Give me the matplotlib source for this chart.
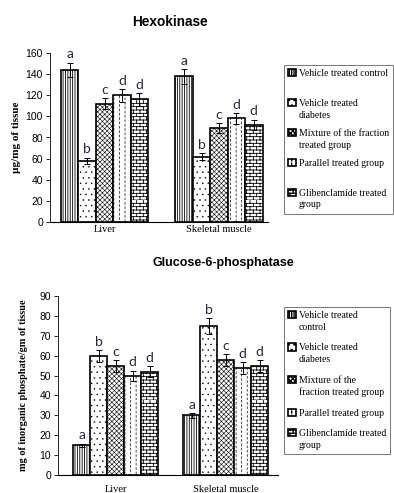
import warnings
import numpy as np
import matplotlib
matplotlib.use('Agg')
import matplotlib.pyplot as plt
from matplotlib import hatch as mhatch
from matplotlib.path import Path

warnings.filterwarnings('ignore')

# data
groups = ['Liver', 'Skeletal muscle']
legend_top = ['Vehicle treated control', 'Vehicle treated\ndiabetes',
              'Mixture of the fraction\ntreated group', 'Parallel treated group',
              'Glibenclamide treated\ngroup']
legend_bot = ['Vehicle treated\ncontrol', 'Vehicle treated\ndiabetes',
              'Mixture of the\nfraction treated group', 'Parallel treated group',
              'Glibenclamide treated\ngroup']

hk_vals = [[144, 58, 112, 120, 116], [138, 62, 89, 98, 92]]
hk_err = [[7, 3, 5, 6, 6], [7, 3, 5, 5, 5]]
hk_letters = [['a', 'b', 'c', 'd', 'd'], ['a', 'b', 'c', 'd', 'd']]

g6p_vals = [[15, 60, 55, 50, 52], [30, 75, 58, 54, 55]]
g6p_err = [[0.8, 3, 3, 2.5, 2.7], [1.2, 4, 3, 3, 3]]
g6p_letters = [['a', 'b', 'c', 'd', 'd'], ['a', 'b', 'c', 'd', 'd']]


# custom hatches: bricks ('B') and vertical dashes ('V')
class BrickHatch(mhatch.HatchPatternBase):
    def __init__(self, hatch, density):
        n = int(hatch.count('B') * density)
        n -= n % 2
        self.rows = n
        self.cols = max(n // 2, 1)
        self.num_vertices = (2 * n + 2 * n * self.cols) if n else 0

    def set_vertices_and_codes(self, vertices, codes):
        k = 0
        for i in range(self.rows):
            y = i / self.rows
            vertices[k] = (0, y); vertices[k + 1] = (1, y)
            codes[k] = Path.MOVETO; codes[k + 1] = Path.LINETO
            k += 2
            for j in range(self.cols):
                x = (j + 0.5 * (i % 2)) / self.cols
                vertices[k] = (x, y); vertices[k + 1] = (x, y + 1 / self.rows)
                codes[k] = Path.MOVETO; codes[k + 1] = Path.LINETO
                k += 2


class DashHatch(mhatch.HatchPatternBase):
    def __init__(self, hatch, density):
        n = int(hatch.count('V') * density)
        self.cols = n
        self.dashes = int(n * 1.3)
        self.num_vertices = 2 * n * self.dashes if n else 0

    def set_vertices_and_codes(self, vertices, codes):
        k = 0
        step = 1 / self.dashes
        for i in range(self.cols):
            x = (i + 0.5) / self.cols
            off = 0.5 * step * (i % 2)
            for j in range(self.dashes):
                y0 = j * step + off
                vertices[k] = (x, y0); vertices[k + 1] = (x, y0 + 0.45 * step)
                codes[k] = Path.MOVETO; codes[k + 1] = Path.LINETO
                k += 2


mhatch._hatch_types.extend([BrickHatch, DashHatch])

hatches = ['|||||||', '...', 'xxxxxxx', 'VVV', 'BBBBB']
hatch_lw = [0.6, 0.3, 0.4, 0.5, 0.6]

fig = plt.figure(figsize=(3.94, 4.93), dpi=100)

serif = 'Liberation Serif'
sans = 'Liberation Sans'


def panel(rect, vals, errs, letters, ymax, ystep, xlim, width, ylabel,
          ylabel_size, labels, leg_anchor, xpad, spacing, pad_single):
    ax = fig.add_axes(rect)
    x = np.arange(len(groups))
    for i in range(5):
        v = [vals[g][i] for g in range(len(groups))]
        e = [errs[g][i] for g in range(len(groups))]
        xs = x + (i - 2) * width
        bars = ax.bar(xs, v, width, color='white', edgecolor='black',
                      linewidth=1.2, hatch=hatches[i], label=labels[i], zorder=2)
        for b in bars:
            b.set_hatch_linewidth(hatch_lw[i])
        ax.errorbar(xs, v, yerr=e, fmt='none', ecolor='black', elinewidth=0.7,
                    capsize=2.5, capthick=0.7, zorder=3)
        for g in range(len(groups)):
            ax.annotate(letters[g][i], (xs[g], v[g] + e[g]), xytext=(0, 1.5),
                        textcoords='offset points', ha='center', va='bottom',
                        fontsize=10, family='Lato', color='#1f2a44')
    ax.set_xlim(*xlim)
    ax.set_ylim(0, ymax)
    ax.set_yticks(np.arange(0, ymax + 1, ystep))
    ax.set_xticks(x)
    ax.set_xticklabels(groups, family=serif, fontsize=7.5)
    ax.tick_params(axis='x', length=0, pad=xpad)
    ax.tick_params(axis='y', length=3, width=0.6, labelsize=7.5, pad=2)
    for t in ax.get_yticklabels():
        t.set_family(sans)
    ax.spines['top'].set_visible(False)
    ax.spines['right'].set_visible(False)
    ax.spines['left'].set_linewidth(0.6)
    ax.spines['bottom'].set_linewidth(0.8)
    ax.set_ylabel(ylabel, family=serif, fontweight='bold', fontsize=ylabel_size)
    ax.yaxis.set_label_coords(-0.135, 0.5)

    h, l = ax.get_legend_handles_labels()
    if pad_single:
        l = [s if '\n' in s else s + '\n ' for s in l]
    leg = fig.legend(h, l, loc='upper left', bbox_to_anchor=leg_anchor,
                     bbox_transform=fig.transFigure, borderaxespad=0,
                     prop={'family': serif, 'size': 7}, frameon=True,
                     fancybox=False, edgecolor='#555555', handlelength=0.75,
                     handleheight=0.75, handletextpad=0.3, labelspacing=spacing,
                     borderpad=0.45)
    leg.get_frame().set_linewidth(0.7)
    for t in leg.get_texts():
        t.set_linespacing(1.35)
    # put the handle next to the first line of each label
    for col in leg._legend_handle_box.get_children():
        for item in col.get_children():
            item.align = 'top'
    return ax


panel([50 / 394, 271 / 493, 218 / 394, 169 / 493], hk_vals, hk_err, hk_letters,
      160, 20, (-0.476, 1.428), 0.152, 'µg/mg of tissue', 8, legend_top,
      (284 / 394, 1 - 65 / 493), 2, 0.97, True)
panel([58 / 394, 18 / 493, 220 / 394, 179 / 493], g6p_vals, g6p_err, g6p_letters,
      90, 10, (-0.523, 1.477), 0.1545,
      'mg of inorganic phosphate/gm of tissue', 7.4, legend_bot,
      (284 / 394, 1 - 307 / 493), 7, 1.2, False)

fig.text(170 / 394, 1 - 22 / 493, 'Hexokinase', ha='center', va='center',
         family=sans, fontweight='bold', fontsize=9.8)
fig.text(223 / 394, 1 - 263 / 493, 'Glucose-6-phosphatase', ha='center',
         va='center', family=sans, fontweight='bold', fontsize=9)

fig.savefig('out.png', dpi=100)
